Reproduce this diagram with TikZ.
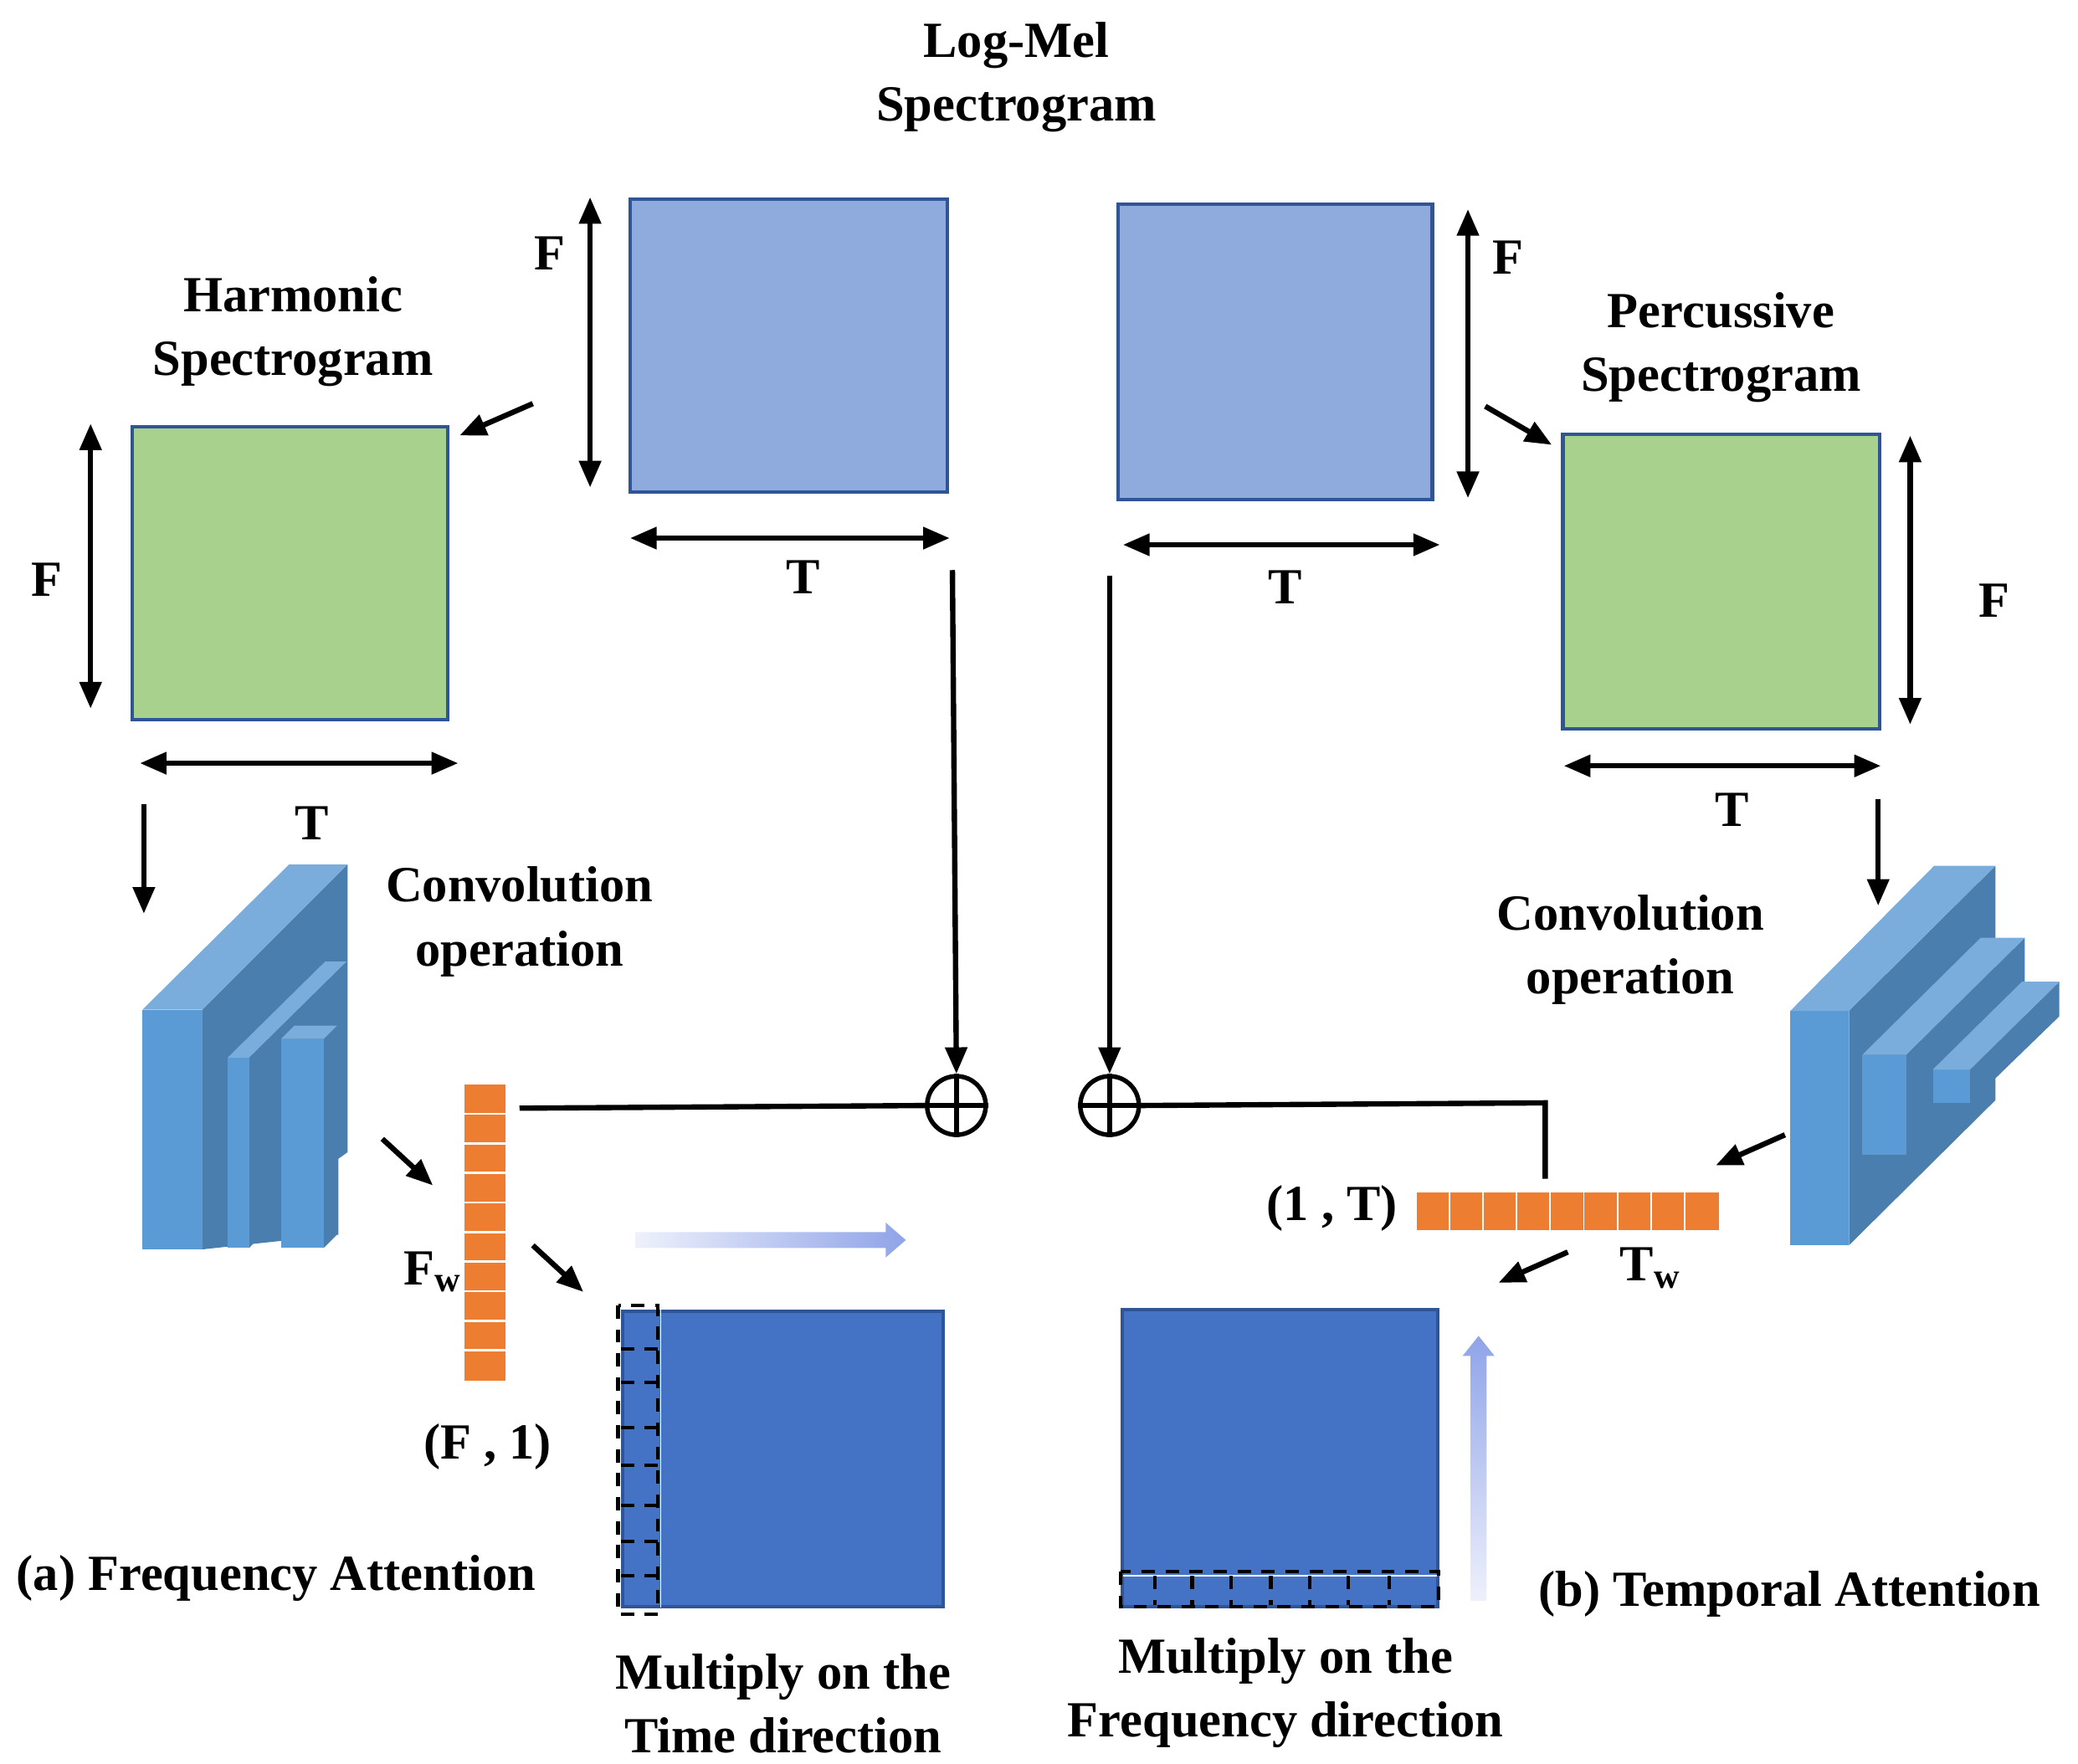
\documentclass[tikz,border=0pt]{standalone}
\usepackage{fontspec}
\setmainfont{LiberationSerif}[Extension=.ttf,UprightFont=*-Regular,BoldFont=*-Bold,ItalicFont=*-Italic,BoldItalicFont=*-BoldItalic]
\usetikzlibrary{arrows.meta}
\definecolor{lblue}{HTML}{8FAADC}
\definecolor{bord}{HTML}{2F5597}
\definecolor{green}{HTML}{A9D18E}
\definecolor{dblue}{HTML}{4472C4}
\definecolor{cfront}{HTML}{5B9BD5}
\definecolor{ctop}{HTML}{7AADDC}
\definecolor{cside}{HTML}{4A7EAE}
\definecolor{org}{HTML}{ED7D31}
\definecolor{garr}{HTML}{8FA3E8}
\begin{document}
\begin{tikzpicture}[x=0.5pt,y=-0.5pt,
  lab/.style={font=\fontsize{19}{24}\selectfont\bfseries,align=center,inner sep=0},
  arr/.style={line width=2pt,-{Triangle[length=10pt,width=8pt]}},
  darr/.style={line width=2pt,{Triangle[length=10pt,width=8pt]}-{Triangle[length=10pt,width=8pt]}},
  sq/.style={draw=bord,line width=1.3pt},
  dsh/.style={black,line width=1.3pt,dash pattern=on 5pt off 4pt}]
\useasboundingbox (0,0) rectangle (1560,1324);
% title
\node[lab] (title) at (763,58) {Log-Mel\\Spectrogram};
% top blue squares
\node[sq,fill=lblue,minimum width=119pt,minimum height=110pt,anchor=north west,inner sep=0] (mL) at (472,148) {};
\node[sq,fill=lblue,minimum width=118pt,minimum height=111pt,anchor=north west,inner sep=0] (mR) at (838,152) {};
\coordinate (a1) at (443,148); \coordinate (a2) at (443,366);
\draw[darr] (a1) -- (a2); \node[lab] (fL) at (413,190) {F};
\coordinate (a3) at (473,404); \coordinate (a4) at (713,404);
\draw[darr] (a3) -- (a4); \node[lab] (tL) at (603,433) {T};
\coordinate (b1) at (1102,157); \coordinate (b2) at (1102,374);
\draw[darr] (b1) -- (b2); \node[lab] (fR) at (1132,193) {F};
\coordinate (b3) at (843,409); \coordinate (b4) at (1081,409);
\draw[darr] (b3) -- (b4); \node[lab] (tR) at (965,441) {T};
% harmonic
\node[lab] (harm) at (220,249) {Harmonic\\Spectrogram};
\node[sq,fill=green,minimum width=118.5pt,minimum height=110pt,anchor=north west,inner sep=0] (hG) at (98,319) {};
\coordinate (c1) at (68,318); \coordinate (c2) at (68,532);
\draw[darr] (c1) -- (c2); \node[lab] (fH) at (35,435) {F};
\coordinate (c3) at (105,573); \coordinate (c4) at (344,573);
\draw[darr] (c3) -- (c4); \node[lab] (tH) at (234,618) {T};
\coordinate (h1) at (400,303); \coordinate (h2) at (345,327);
\draw[arr] (h1) -- (h2);
% percussive
\node[lab] (perc) at (1292,261) {Percussive\\Spectrogram};
\node[sq,fill=green,minimum width=119pt,minimum height=110.5pt,anchor=north west,inner sep=0] (pG) at (1172,325) {};
\coordinate (d1) at (1434,327); \coordinate (d2) at (1434,544);
\draw[darr] (d1) -- (d2); \node[lab] (fP) at (1497,451) {F};
\coordinate (d3) at (1174,575); \coordinate (d4) at (1412,575);
\draw[darr] (d3) -- (d4); \node[lab] (tP) at (1300,608) {T};
\coordinate (p1) at (1115,305); \coordinate (p2) at (1165,334);
\draw[arr] (p1) -- (p2);
% down arrows
\coordinate (e1) at (108,604); \coordinate (e2) at (108,686); \draw[arr] (e1) -- (e2);
\coordinate (e3) at (1410,600); \coordinate (e4) at (1410,680); \draw[arr] (e3) -- (e4);
% left conv block
\fill[cside] (152,758) -- (261,649) -- (261,865) -- (254,870) -- (254,927) -- (152,938) -- cycle;
\fill[cfront] (107,758) rectangle (152,938);
\fill[ctop] (107,758) -- (152,758) -- (261,649) -- (217,649) -- cycle;
\fill[cside] (187,794) -- (260,722) -- (260,860) -- (187,937) -- cycle;
\fill[cfront] (171,794) rectangle (187,937);
\fill[ctop] (171,794) -- (187,794) -- (260,722) -- (244,722) -- cycle;
\fill[cside] (243,780) -- (253,770) -- (253,927) -- (243,937) -- cycle;
\fill[cfront] (211,780) rectangle (243,937);
\fill[ctop] (211,780) -- (243,780) -- (253,770) -- (221,770) -- cycle;
\node[lab] (convL) at (390,692) {Convolution\\operation};
% right conv block
\fill[cside] (1388,759) -- (1498,650) -- (1498,826) -- (1388,935) -- cycle;
\fill[cfront] (1344,759) rectangle (1388,935);
\fill[ctop] (1344,759) -- (1388,759) -- (1498,650) -- (1452,650) -- cycle;
\fill[cside] (1431,792) -- (1520,704) -- (1520,780) -- (1431,867) -- cycle;
\fill[cfront] (1398,792) rectangle (1431,867);
\fill[ctop] (1398,792) -- (1431,792) -- (1520,704) -- (1487,704) -- cycle;
\fill[cside] (1479,803) -- (1546,737) -- (1546,763) -- (1479,828) -- cycle;
\fill[cfront] (1451,803) rectangle (1479,828);
\fill[ctop] (1451,803) -- (1479,803) -- (1546,737) -- (1518,737) -- cycle;
\node[lab] (convR) at (1224,713) {Convolution\\operation};
% orange bars
\node[fill=org,minimum width=15.5pt,minimum height=111pt,anchor=north west,inner sep=0] (vbar) at (348,814) {};
\foreach \i in {1,...,9} \draw[white,line width=0.8pt] (346,814+22.2*\i) -- (381,814+22.2*\i);
\node[fill=org,minimum width=113.5pt,minimum height=14pt,anchor=north west,inner sep=0] (hbar) at (1063,895) {};
\foreach \i in {1,...,8} \draw[white,line width=0.6pt] (1063+25.2*\i,890) -- (1063+25.2*\i,927);
% circles
\node[circle,draw,line width=1.7pt,minimum size=22pt,inner sep=0] (plL) at (718,830) {};
\draw[line width=1.7pt] (plL.north) -- (plL.south) (plL.west) -- (plL.east);
\node[circle,draw,line width=1.7pt,minimum size=22pt,inner sep=0] (plR) at (833,830) {};
\draw[line width=1.7pt] (plR.north) -- (plR.south) (plR.west) -- (plR.east);
\coordinate (f1) at (715,428); \draw[arr] (f1) -- (plL.north);
\coordinate (f2) at (833,432); \draw[arr] (f2) -- (plR.north);
\coordinate (g1) at (390,832);
\draw[line width=2pt] (g1) -- (plL.west);
\coordinate (g2) at (1160,828); \coordinate (g3) at (1160,885);
\draw[line width=2pt] (plR.east) -- (g2) -- (g3);
% small arrows
\coordinate (k1) at (287,855); \coordinate (k2) at (325,890); \draw[arr] (k1) -- (k2);
\coordinate (k3) at (400,935); \coordinate (k4) at (438,970); \draw[arr] (k3) -- (k4);
\coordinate (k5) at (1340,852); \coordinate (k6) at (1288,875); \draw[arr] (k5) -- (k6);
\coordinate (k7) at (1177,940); \coordinate (k8) at (1125,963); \draw[arr] (k7) -- (k8);
% gradient arrows
\shade[left color=garr!15,right color=garr] (477,925) -- (665,925) -- (665,918) -- (680,931) -- (665,944) -- (665,937) -- (477,937) -- cycle;
\shade[bottom color=garr!15,top color=garr] (1104,1202) -- (1104,1018) -- (1098,1018) -- (1110,1003) -- (1122,1018) -- (1116,1018) -- (1116,1202) -- cycle;
% bottom squares
\node[sq,fill=dblue,minimum width=120.5pt,minimum height=111pt,anchor=north west,inner sep=0] (sL) at (466,983) {};
\draw[dsh] (464,980) rectangle (494,1212);
\draw[white,line width=0.6pt] (496,983) -- (496,1207);
\foreach \y in {1013,1038,1072,1100,1130,1157,1183} \draw[dsh] (466,\y) -- (494,\y);
\node[sq,fill=dblue,minimum width=118.5pt,minimum height=111.5pt,anchor=north west,inner sep=0] (sR) at (841,982) {};
\draw[dsh] (841,1180) rectangle (1080,1206);
\draw[white,line width=0.6pt] (843,1183) -- (1079,1183);
\foreach \x in {867,895,924,954,983,1012,1043} \draw[dsh] (\x,1183) -- (\x,1205);
% labels
\node[lab] (fw) at (325,955) {F\textsubscript{w}};
\node[lab] (f1l) at (366,1086) {(F , 1)};
\node[lab] (t1l) at (1000,907) {(1 , T)};
\node[lab] (tw) at (1239,952) {T\textsubscript{w}};
\node[lab,anchor=west] (fa) at (12,1185) {(a) Frequency Attention};
\node[lab,anchor=east] (ta) at (1532,1197) {(b) Temporal Attention};
\node[lab] (mt) at (588,1279) {Multiply on the\\Time direction};
\node[lab] (mf) at (965,1271) {Multiply on the\\Frequency direction};
\end{tikzpicture}
\end{document}
